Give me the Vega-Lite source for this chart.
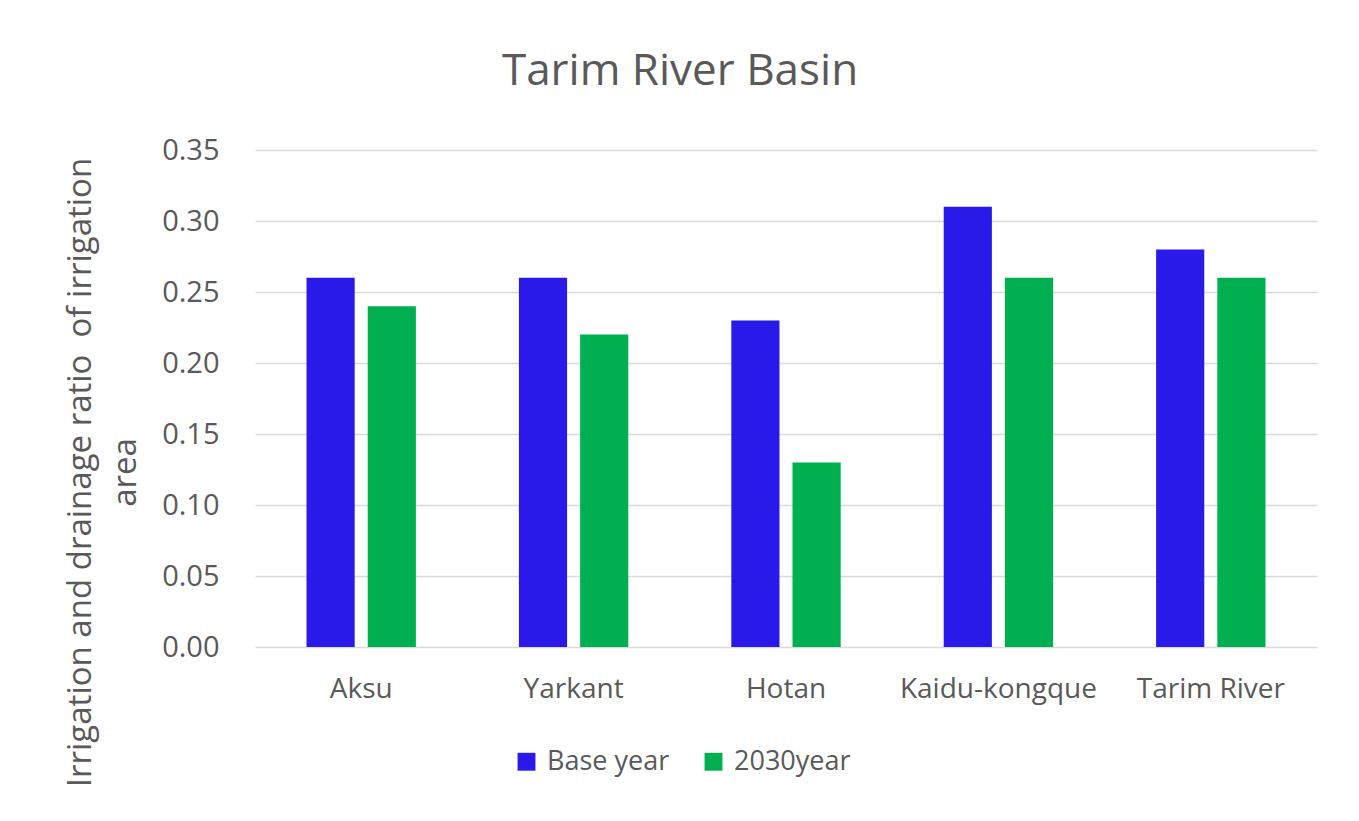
{
  "$schema": "https://vega.github.io/schema/vega-lite/v6.json",
  "autosize": {"type": "none"},
  "width": 1062,
  "height": 497,
  "padding": {"left": 255, "top": 150, "right": 42, "bottom": 174},
  "background": "white",
  "title": {
    "text": "Tarim River Basin",
    "fontSize": 44,
    "font": "Open Sans",
    "fontWeight": "normal",
    "color": "#595959",
    "anchor": "middle",
    "dx": -106,
    "baseline": "alphabetic",
    "offset": 7
  },
  "data": {
    "values": [
      {"basin": "Aksu", "series": "Base year", "value": 0.26},
      {"basin": "Aksu", "series": "2030year", "value": 0.24},
      {"basin": "Yarkant", "series": "Base year", "value": 0.26},
      {"basin": "Yarkant", "series": "2030year", "value": 0.22},
      {"basin": "Hotan", "series": "Base year", "value": 0.23},
      {"basin": "Hotan", "series": "2030year", "value": 0.13},
      {"basin": "Kaidu-kongque", "series": "Base year", "value": 0.31},
      {"basin": "Kaidu-kongque", "series": "2030year", "value": 0.26},
      {"basin": "Tarim River", "series": "Base year", "value": 0.28},
      {"basin": "Tarim River", "series": "2030year", "value": 0.26}
    ]
  },
  "mark": {"type": "bar"},
  "encoding": {
    "x": {
      "field": "basin",
      "type": "nominal",
      "sort": ["Aksu", "Yarkant", "Hotan", "Kaidu-kongque", "Tarim River"],
      "scale": {"paddingInner": 0.485, "paddingOuter": 0.2425},
      "axis": {
        "title": null,
        "labelAngle": 0,
        "domain": false,
        "ticks": false,
        "labelPadding": 28,
        "labelFontSize": 28,
        "labelLimit": 400,
        "labelFont": "Open Sans",
        "labelColor": "#595959"
      }
    },
    "xOffset": {
      "field": "series",
      "type": "nominal",
      "sort": ["Base year", "2030year"],
      "scale": {"paddingInner": 0.213, "paddingOuter": 0}
    },
    "y": {
      "field": "value",
      "type": "quantitative",
      "scale": {"domain": [0, 0.35], "nice": false},
      "axis": {
        "values": [0, 0.05, 0.1, 0.15, 0.2, 0.25, 0.3, 0.35],
        "format": ".2f",
        "domain": false,
        "ticks": false,
        "labelPadding": 36,
        "labelFontSize": 29,
        "labelFont": "Open Sans",
        "labelColor": "#595959",
        "gridColor": "#d9d9d9",
        "gridWidth": 1.5,
        "title": ["Irrigation and drainage ratio\u00a0 of irrigation", "area"],
        "titleFont": "Open Sans",
        "titleFontSize": 33,
        "titleFontWeight": "normal",
        "titleColor": "#595959",
        "titleAngle": -90,
        "titleAlign": "center",
        "titleBaseline": "top",
        "titleLineHeight": 45,
        "titleX": -191,
        "titleY": 322
      }
    },
    "color": {
      "field": "series",
      "type": "nominal",
      "sort": ["Base year", "2030year"],
      "scale": {"domain": ["Base year", "2030year"], "range": ["#2a1aea", "#00b050"]},
      "legend": {
        "title": null,
        "orient": "none",
        "direction": "horizontal",
        "legendX": 258,
        "legendY": 598,
        "symbolType": "square",
        "symbolSize": 320,
        "symbolStrokeWidth": 0,
        "symbolOpacity": 1,
        "labelFont": "Open Sans",
        "labelFontSize": 27,
        "labelColor": "#595959",
        "columnPadding": 30,
        "labelOffset": 7
      }
    }
  },
  "config": {
    "view": {"stroke": null}
  }
}
